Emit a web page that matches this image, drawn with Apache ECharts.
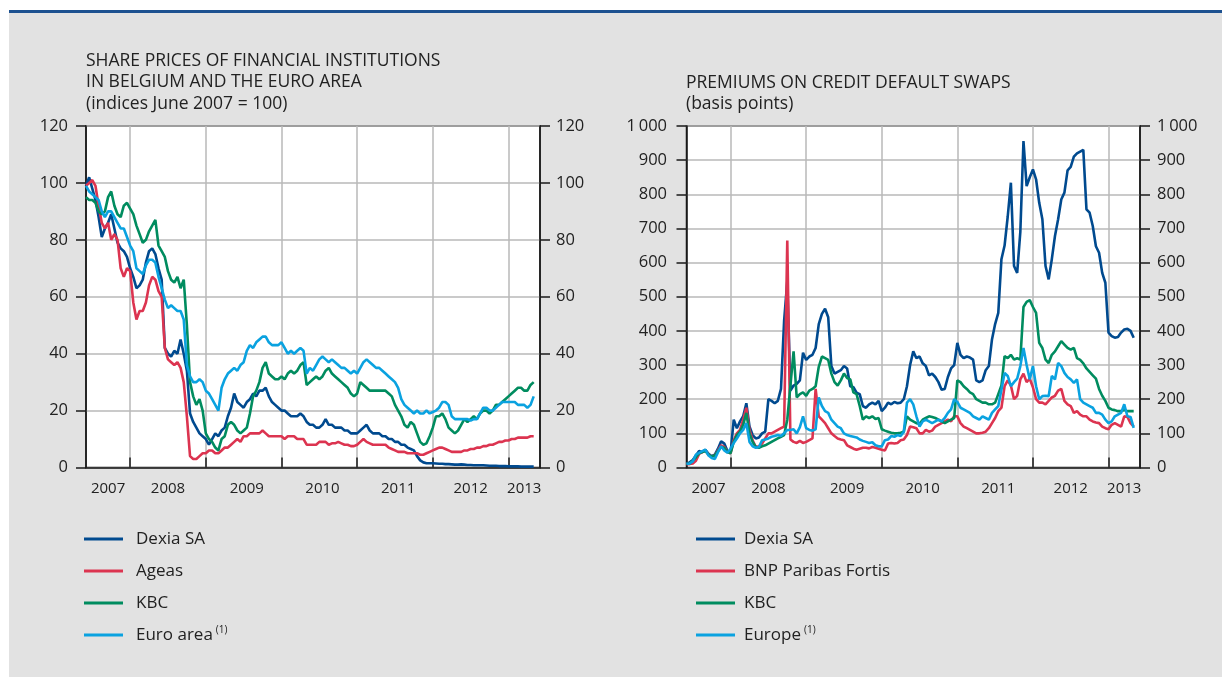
<!DOCTYPE html>
<html>
<head>
<meta charset="utf-8">
<title>Share prices and CDS premiums</title>
<script src="https://cdn.jsdelivr.net/npm/echarts@6/dist/echarts.min.js"></script>
<style>
  html, body { margin: 0; padding: 0; background: #fff; }
  #chart { width: 1222px; height: 677px; }
</style>
</head>
<body>
<div id="chart"></div>
<script>
// half-monthly dates, 1 June 2007 .. 1 June 2013
var categories = [];
for (var k = 0; k <= 144; k++) {
  var m = 5 + Math.floor(k / 2);
  var yr = 2007 + Math.floor(m / 12);
  categories.push(yr + '-' + ('0' + (m % 12 + 1)).slice(-2) + (k % 2 ? '-16' : '-01'));
}
var yearLabels = ['2007', '2008', '2009', '2010', '2011', '2012', '2013'];
var yearLabelIdx = [7, 26, 51, 75, 99, 122, 139];   // where each year label sits
var yearStartIdx = [14, 38, 62, 86, 110, 134];      // 1 January of 2008..2013

// left panel: share prices (indices June 2007 = 100)
var dexiaShares = [
  99, 102, 98, 94, 88, 81, 84, 86, 89, 84,
  79, 77, 76, 74, 70, 67, 63, 64, 66, 72,
  76, 77, 75, 70, 66, 42, 40, 39, 41, 40,
  45, 40, 34, 19, 16, 14, 12, 11, 10, 8,
  10, 12, 11, 13, 14, 18, 21, 26, 23, 22,
  21, 23, 24, 26, 25, 27, 27, 28, 25, 23,
  22, 21, 20, 20, 19, 18, 18, 18, 19, 18,
  16, 15, 15, 14, 14, 15, 17, 15, 15, 14,
  14, 14, 13, 13, 12, 12, 12, 13, 14, 15,
  13, 12, 12, 12, 11, 11, 10, 10, 9, 9,
  8, 8, 7, 6.5, 6, 4, 2.5, 1.8, 1.5, 1.5,
  1.5, 1.4, 1.3, 1.3, 1.2, 1.2, 1.1, 1.0, 1.0, 1.1,
  1.0, 0.9, 0.9, 0.8, 0.8, 0.8, 0.8, 0.7, 0.6, 0.6,
  0.6, 0.5, 0.5, 0.5, 0.4, 0.4, 0.4, 0.4, 0.3, 0.3,
  0.3, 0.3, 0.3
];
var ageasShares = [
  99, 100, 101, 99, 92, 86, 84, 86, 80, 82,
  80, 70, 67, 70, 69, 58, 52, 55, 55, 58,
  64, 67, 66, 62, 60, 42, 38, 37, 36, 37,
  35, 30, 18, 4, 3, 3, 4, 5, 5, 6,
  6, 5, 5, 6, 7, 7, 8, 9, 10, 9,
  11, 11, 12, 12, 12, 12, 13, 12, 11, 11,
  11, 11, 11, 10, 11, 11, 11, 10, 10, 10,
  8, 8, 8, 8, 9, 9, 9, 8, 8.5, 8.5,
  9, 8.5, 8, 8, 7.5, 7.5, 8, 9, 10, 9,
  8.5, 8, 8, 8, 8, 8, 7, 6.5, 6, 5.5,
  5.5, 5.5, 5, 5, 5, 5, 4.5, 4.5, 5, 5.5,
  6, 6.5, 7, 7, 6.5, 6, 5.5, 5.5, 5.5, 5.5,
  6, 6, 6.5, 6.5, 7, 7, 7.5, 7.5, 8, 8,
  8.5, 9, 9, 9.5, 9.5, 10, 10, 10.5, 10.5, 10.5,
  10.5, 11, 11
];
var kbcShares = [
  95, 94, 94, 93, 90, 89, 90, 95, 97, 92,
  89, 88, 92, 93, 91, 89, 85, 82, 79, 80,
  83, 85, 87, 78, 76, 74, 69, 66, 65, 67,
  63, 66, 50, 30, 25, 22, 24, 20, 12, 10,
  9, 7, 6, 10, 11, 15, 16, 15, 13, 12,
  13, 14, 19, 25, 27, 30, 35, 37, 33, 32,
  31, 31, 32, 31, 33, 34, 33, 34, 36, 37,
  29, 30, 31, 32, 31, 32, 34, 35, 33, 32,
  31, 30, 29, 28, 26, 25, 26, 30, 29, 28,
  27, 27, 27, 27, 27, 27, 26, 25, 22, 20,
  18, 15, 14, 16, 15, 12, 9, 8, 8.5, 11,
  14, 18, 18, 19, 17, 14, 13, 12, 13, 15,
  17, 16, 17, 18, 17, 19, 20, 20, 19, 20,
  22, 22, 23, 24, 25, 26, 27, 28, 28, 27,
  27, 29, 30
];
var euroAreaShares = [
  99, 97, 96, 95, 94, 90, 88, 90, 90, 88,
  86, 84, 84, 81, 78, 76, 70, 69, 68, 71,
  73, 73, 72, 67, 63, 59, 56, 57, 56, 55,
  55, 52, 36, 32, 30, 30, 31, 30, 27, 26,
  24, 22, 20, 28, 31, 33, 34, 35, 34, 36,
  37, 41, 43, 42, 44, 45, 46, 46, 44, 43,
  43, 43, 44, 42, 40, 41, 40, 41, 42, 41,
  33, 35, 34, 36, 38, 39, 38, 37, 38, 37,
  36, 35, 35, 34, 33, 34, 33, 35, 37, 38,
  37, 36, 35, 35, 34, 33, 32, 31, 30, 28,
  24, 22, 21, 20, 19, 20, 19, 19, 20, 19,
  19.5, 20, 21, 23, 23, 22, 18, 17, 17, 17,
  17, 17, 16.5, 17, 17, 19, 21, 21, 20, 20,
  21, 22, 23, 23, 23, 23, 23, 22, 22, 22,
  21, 22, 25
];

// right panel: CDS premiums (basis points)
var dexiaCds = [
  12, 15, 22, 35, 48, 45, 52, 40, 33, 38,
  55, 77, 70, 48, 43, 140, 115, 135, 150, 188,
  120, 95, 85, 88, 100, 105, 200, 195, 188, 195,
  230, 430, 545, 225, 240, 245, 255, 336, 315, 325,
  330, 350, 420, 450, 465, 440, 297, 275, 280, 285,
  297, 290, 238, 235, 219, 215, 180, 175, 185, 190,
  185, 195, 165, 175, 190, 185, 192, 188, 190, 200,
  238, 300, 340, 320, 325, 305, 297, 270, 275, 265,
  250, 228, 230, 265, 290, 300, 365, 330, 320, 325,
  322, 316, 255, 250, 255, 285, 297, 375, 420, 453,
  610, 650, 735, 834, 590, 570, 690, 956, 824, 850,
  873, 844, 775, 727, 590, 551, 610, 678, 727, 785,
  805, 870, 880, 910, 920, 925, 930, 756, 746, 707,
  648, 629, 570, 541, 395, 385, 380, 382, 395, 404,
  406, 400, 380
];
var bnpFortisCds = [
  10, 10, 12, 20, 40, 45, 50, 38, 32, 35,
  50, 65, 60, 45, 42, 80, 100, 110, 140, 175,
  110, 80, 60, 62, 70, 85, 100, 100, 105, 110,
  115, 120, 665, 82, 75, 72, 78, 72, 75, 80,
  85, 230, 150, 140, 130, 115, 100, 92, 85, 82,
  80, 65, 60, 55, 52, 55, 58, 58, 56, 60,
  58, 55, 52, 50, 70, 72, 70, 72, 80, 82,
  95, 120, 118, 115, 100, 100, 110, 105, 108, 120,
  125, 130, 135, 140, 135, 150, 150, 130, 120, 115,
  110, 105, 100, 100, 102, 105, 115, 130, 145, 165,
  175, 238, 255, 240, 200, 210, 258, 275, 250, 260,
  235, 200, 190, 190, 185, 195, 205, 210, 225, 230,
  195, 185, 180, 160, 165, 155, 150, 150, 140, 135,
  132, 130, 120, 115, 112, 125, 130, 125, 120, 150,
  148, 130, 120
];
var kbcCds = [
  10, 12, 20, 30, 42, 45, 48, 38, 32, 35,
  48, 60, 58, 45, 42, 75, 95, 105, 125, 160,
  100, 75, 60, 58, 62, 65, 70, 75, 80, 85,
  90, 95, 140, 240, 340, 205, 215, 220, 210, 225,
  230, 238, 295, 325, 320, 315, 275, 250, 240, 255,
  275, 262, 258, 220, 215, 180, 140, 150, 145, 150,
  142, 145, 112, 108, 105, 102, 100, 100, 102, 105,
  150, 140, 135, 130, 128, 140, 145, 150, 148, 145,
  140, 135, 130, 135, 140, 145, 255, 250, 238, 230,
  220, 215, 200, 195, 190, 190, 185, 185, 190, 215,
  240, 326, 320, 330, 316, 320, 316, 470, 485, 490,
  470, 453, 365, 350, 316, 306, 330, 340, 355, 370,
  360, 350, 345, 350, 320, 315, 305, 290, 280, 270,
  260, 230, 210, 195, 175, 170, 168, 165, 165, 168,
  165, 165, 165
];
var europeCds = [
  10, 12, 18, 38, 43, 48, 52, 35, 28, 25,
  45, 62, 50, 43, 55, 72, 85, 100, 110, 130,
  75, 62, 58, 60, 80, 82, 85, 90, 92, 95,
  92, 100, 110, 110, 112, 100, 118, 150, 115, 110,
  108, 112, 205, 180, 165, 160, 140, 130, 120, 115,
  100, 95, 92, 90, 88, 82, 78, 75, 72, 74,
  65, 62, 62, 80, 82, 92, 90, 95, 92, 105,
  190, 200, 185, 150, 120, 135, 140, 135, 130, 135,
  140, 135, 145, 160, 170, 200, 192, 175, 170, 165,
  160, 150, 145, 140, 150, 145, 140, 160, 170, 180,
  228, 277, 268, 238, 250, 260, 297, 350, 300, 258,
  297, 238, 200, 209, 210, 209, 268, 258, 306, 297,
  277, 265, 258, 248, 258, 200, 190, 185, 180, 175,
  160, 160, 155, 140, 130, 135, 150, 155, 160, 185,
  150, 148, 116
];

var font = 'Open Sans';
var textColor = '#222';
var axisColor = '#1a1a1a';
var gridColor = '#b8b8b8';
var cDexia = '#004a8f', cRed = '#dc3450', cGreen = '#008c5f', cLight = '#0aa2e0';

function pick(list) {
  return function (idx) { return list.indexOf(idx) >= 0; };
}

function xAxisFor(g) {
  return {
    type: 'category', gridIndex: g, data: categories, boundaryGap: false,
    axisLine: { lineStyle: { color: axisColor, width: 1.5 } },
    axisTick: { inside: true, length: 10, interval: pick(yearStartIdx), lineStyle: { color: axisColor, width: 1.5 } },
    splitLine: { show: true, interval: pick(yearStartIdx), lineStyle: { color: gridColor, width: 1.5 } },
    axisLabel: {
      interval: pick(yearLabelIdx), margin: 14, color: textColor, fontSize: 15, fontFamily: font,
      formatter: function (v, i) { return yearLabels[yearLabelIdx.indexOf(i)]; }
    }
  };
}

function yAxisFor(g, pos, max, step, margin, fmt) {
  return {
    type: 'value', gridIndex: g, position: pos, min: 0, max: max, interval: step,
    axisLine: { show: true, lineStyle: { color: axisColor, width: 1.5 } },
    axisTick: { show: true, length: 10, lineStyle: { color: axisColor, width: 1.5 } },
    splitLine: { show: pos === 'left', lineStyle: { color: gridColor, width: 1.5 } },
    axisLabel: { margin: margin, color: textColor, fontSize: 16.5, fontFamily: font, formatter: fmt }
  };
}

function thousands(v) { return v >= 1000 ? '1\u2009000' : String(v); }

function line(name, data, color, g, yIdx) {
  return {
    name: name, type: 'line', data: data, xAxisIndex: g, yAxisIndex: yIdx,
    showSymbol: false, symbol: 'none', animation: false,
    lineStyle: { color: color, width: 2.6 }, itemStyle: { color: color }
  };
}

function legendAt(left, gap, names) {
  return {
    orient: 'vertical', left: left, top: 529, padding: 0, itemGap: 12,
    icon: 'rect', itemWidth: 39, itemHeight: 3, selectedMode: false,
    data: names,
    formatter: function (n) { return (n === 'Euro area' || n === 'Europe') ? n + '{s|(1)}' : n; },
    textStyle: {
      color: textColor, fontSize: 17, fontFamily: font, lineHeight: 20, padding: [0, 0, 0, gap],
      rich: { s: { fontSize: 10, fontFamily: font, color: textColor, verticalAlign: 'top', padding: [0, 0, 8, 3] } }
    }
  };
}

var chart = echarts.init(document.getElementById('chart'), null, { renderer: 'canvas' });
chart.setOption({
  backgroundColor: '#fff',
  animation: false,
  graphic: [
    { type: 'rect', silent: true, z: -10, shape: { x: 9, y: 12, width: 1213, height: 665 }, style: { fill: '#e2e2e2' } },
    { type: 'rect', silent: true, z: -9, shape: { x: 9, y: 10, width: 1213, height: 3 }, style: { fill: '#1d5190' } }
  ],
  title: [
    {
      text: 'SHARE PRICES OF FINANCIAL INSTITUTIONS\nIN BELGIUM AND THE EURO AREA\n(indices June 2007 = 100)',
      left: 86, top: 50, padding: 0,
      textStyle: { fontFamily: font, fontSize: 17.5, fontWeight: 'normal', color: textColor, lineHeight: 21.5 }
    },
    {
      text: 'PREMIUMS ON CREDIT DEFAULT SWAPS\n(basis points)',
      left: 686, top: 72, padding: 0,
      textStyle: { fontFamily: font, fontSize: 17.5, fontWeight: 'normal', color: textColor, lineHeight: 21.5 }
    }
  ],
  grid: [
    { left: 86, top: 126, width: 454, height: 341.5, show: true, backgroundColor: '#fff', borderColor: axisColor, borderWidth: 1.5 },
    { left: 686.5, top: 126, width: 453.5, height: 341.5, show: true, backgroundColor: '#fff', borderColor: axisColor, borderWidth: 1.5 }
  ],
  xAxis: [xAxisFor(0), xAxisFor(1)],
  yAxis: [
    yAxisFor(0, 'left', 120, 20, 18),
    yAxisFor(0, 'right', 120, 20, 16),
    yAxisFor(1, 'left', 1000, 100, 19.5, thousands),
    yAxisFor(1, 'right', 1000, 100, 17, thousands)
  ],
  legend: [
    legendAt(84, 8, ['Dexia SA', 'Ageas', 'KBC', 'Euro area']),
    legendAt(696, 4, ['Dexia SA', 'BNP Paribas Fortis', 'KBC', 'Europe'])
  ],
  series: [
    line('Dexia SA', dexiaShares, cDexia, 0, 0),
    line('Ageas', ageasShares, cRed, 0, 0),
    line('KBC', kbcShares, cGreen, 0, 0),
    line('Euro area', euroAreaShares, cLight, 0, 0),
    line('Dexia SA', dexiaCds, cDexia, 1, 2),
    line('BNP Paribas Fortis', bnpFortisCds, cRed, 1, 2),
    line('KBC', kbcCds, cGreen, 1, 2),
    line('Europe', europeCds, cLight, 1, 2)
  ]
});
</script>
</body>
</html>
